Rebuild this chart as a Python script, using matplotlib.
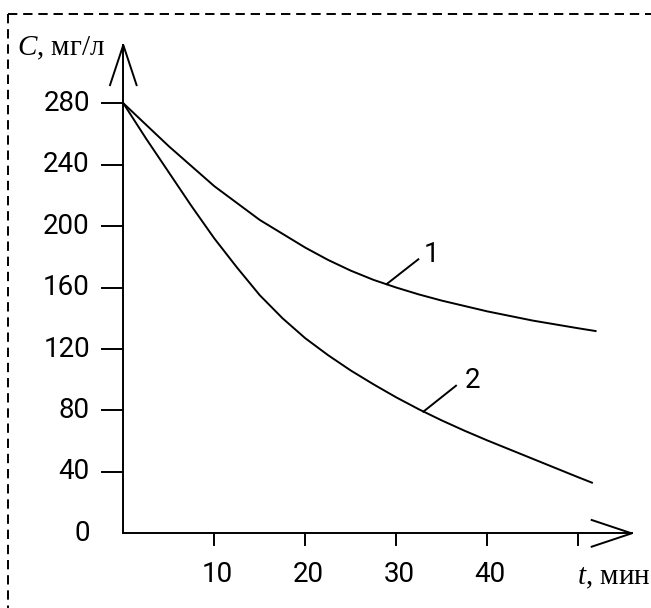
import numpy as np
import matplotlib
matplotlib.use("Agg")
import matplotlib.pyplot as plt
from matplotlib.lines import Line2D

# curve data
t1 = [0, 2.5, 5, 7.5, 10, 12.5, 15, 17.5, 20, 22.5, 25, 27.5, 30, 32.5, 35,
      37.5, 40, 42.5, 45, 47.5, 50, 51.9]
c1 = [280, 266, 252, 239, 226, 215, 204, 195, 186, 178, 171, 165, 160, 155.5, 151.5,
      148, 144.5, 141.5, 138.5, 136, 133.5, 131.7]
t2 = [0, 2.5, 5, 7.5, 10, 12.5, 15, 17.5, 20, 22.5, 25, 27.5, 30, 32.5, 35,
      37.5, 40, 42.5, 45, 47.5, 50, 51.5]
c2 = [280, 257, 235, 213, 192, 173, 155, 140, 127, 116, 106, 97, 88.5, 80.7, 73.5,
      66.8, 60.5, 54.5, 48.5, 42.5, 36.5, 33]

yticks = [0, 40, 80, 120, 160, 200, 240, 280]
xticks = [10, 20, 30, 40, 50]
xticklabels = ["10", "20", "30", "40", ""]

plt.rcParams['mathtext.fontset'] = 'custom'
plt.rcParams['mathtext.it'] = 'Liberation Serif:italic'
plt.rcParams['mathtext.rm'] = 'Liberation Serif'

W, H = 651, 608
fig = plt.figure(figsize=(W / 100, H / 100), dpi=100)
ax = fig.add_axes([0, 0, 1, 1])
ax.set_xlim(-13.55, 57.99)
ax.set_ylim(-48.6, 347.2)
ax.axis('off')

lw = 1.4
k = 'black'
tickfont = dict(family=['Roboto', 'DejaVu Sans'], fontsize=20, color=k)

# axes with arrows
ax.plot([0, 0], [0, 317.9], color=k, lw=lw)
ax.plot([-1.46, 0, 1.46], [291.8, 317.9, 291.8], color=k, lw=lw)
ax.plot([0, 55.87], [0, 0], color=k, lw=lw)
ax.plot([51.47, 55.87, 51.47], [8.7, 0, -8.7], color=k, lw=lw)

for v in yticks[1:]:
    ax.plot([-2.34, 0], [v, v], color=k, lw=lw)
for v in yticks:
    ax.text(-3.66, v, str(v), ha='right', va='center', **tickfont)
for v, lab in zip(xticks, xticklabels):
    ax.plot([v, v], [0, -7.8], color=k, lw=lw)
    ax.text(v + 0.3, -26.5, lab, ha='center', va='center', **tickfont)

# curves
ax.plot(t1, c1, color=k, lw=lw)
ax.plot(t2, c2, color=k, lw=lw)

# curve labels with leaders
ax.plot([28.95, 32.42], [162.3, 178.4], color=k, lw=lw)
ax.text(33.9, 181.2, "1", ha='center', va='center', **tickfont)
ax.plot([32.97, 36.56], [79.2, 96.1], color=k, lw=lw)
ax.text(38.35, 99.3, "2", ha='center', va='center', **tickfont)

serif = dict(family=['Liberation Serif', 'DejaVu Serif'], fontsize=21)
fig.text(17 / W, 1 - 55 / H, r"$C$, мг/л", ha='left', va='baseline', **serif)
fig.text(577 / W, 1 - 584 / H, r"$t$, мин", ha='left', va='baseline', **serif)

# dashed frame
dash = (0, (4.8, 3.0))
fig.add_artist(Line2D([7.5 / W, 7.5 / W], [1 - 13.5 / H, 0], transform=fig.transFigure,
                      color=k, lw=lw, linestyle=dash))
fig.add_artist(Line2D([7.5 / W, 1], [1 - 13.5 / H, 1 - 13.5 / H], transform=fig.transFigure,
                      color=k, lw=lw, linestyle=dash))

fig.savefig("out.png", dpi=100)
